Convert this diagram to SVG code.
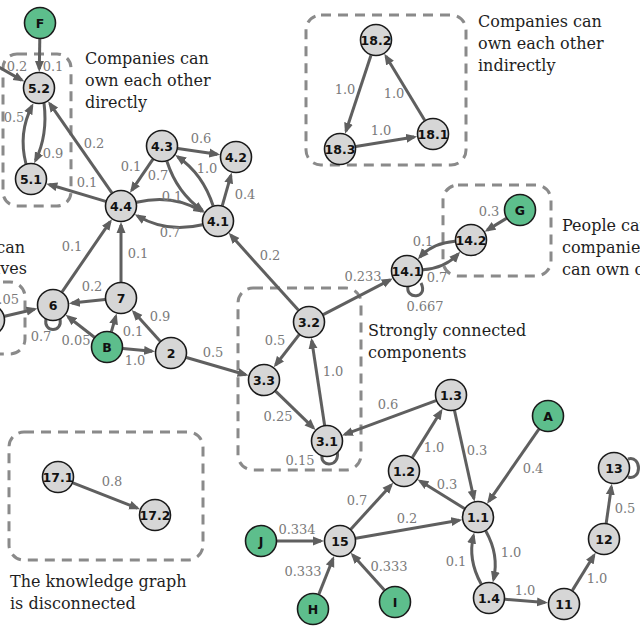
<svg xmlns="http://www.w3.org/2000/svg" width="640" height="640" viewBox="0 0 640 640">
<defs>
<marker id="arr" markerUnits="userSpaceOnUse" markerWidth="12" markerHeight="10" refX="8" refY="5" orient="auto" viewBox="0 0 12 10"><path d="M0,0.5 L11,5 L0,9.5 z" fill="#5f5f5f"/></marker>
</defs>
<style>
.e{fill:none;stroke:#5f5f5f;stroke-width:3;marker-end:url(#arr)}
.lp{fill:none;stroke:#5f5f5f;stroke-width:3}
.box{fill:none;stroke:#8a8a8a;stroke-width:3;stroke-dasharray:10 7}
.n{fill:#d6d6d6;stroke:#1a1a1a;stroke-width:1.6}
.g{fill:#5dbe8c;stroke:#1a1a1a;stroke-width:1.6}
.nt{font-family:"DejaVu Sans",sans-serif;font-weight:bold;font-size:12.5px;fill:#111;text-anchor:middle}
.el{font-family:"DejaVu Serif","Liberation Serif",serif;font-size:13px;fill:#7a7a7a;text-anchor:middle}
.an{font-family:"DejaVu Serif","Liberation Serif",serif;font-size:16px;fill:#1e1e1e}
</style>
<g id="boxes">
<rect class="box" x="3" y="54" width="68" height="152" rx="14"/>
<rect class="box" x="306" y="15" width="160" height="150" rx="15"/>
<rect class="box" x="443" y="185" width="108" height="91" rx="15"/>
<rect class="box" x="238" y="288" width="123" height="182" rx="15"/>
<rect class="box" x="9" y="432" width="194" height="128" rx="15"/>
<rect class="box" x="-80" y="282" width="105" height="72" rx="15"/>
</g>
<g id="annotations">
<text class="an" x="85" y="64">Companies can</text>
<text class="an" x="85" y="86">own each other</text>
<text class="an" x="85" y="108">directly</text>
<text class="an" x="478" y="27">Companies can</text>
<text class="an" x="478" y="49">own each other</text>
<text class="an" x="478" y="71">indirectly</text>
<text class="an" x="562" y="231">People can</text>
<text class="an" x="562" y="253">companies</text>
<text class="an" x="562" y="275">can own c</text>
<text class="an" x="25" y="253" text-anchor="end">can</text>
<text class="an" x="27" y="274" text-anchor="end">lves</text>
<text class="an" x="368" y="336">Strongly connected</text>
<text class="an" x="368" y="358">components</text>
<text class="an" x="10" y="587">The knowledge graph</text>
<text class="an" x="10" y="609">is disconnected</text>
</g>
<g id="connectors">
<path class="e" d="M39.8,39 L39.3,69"/>
<path class="e" d="M-5,65 L21.7,80.1"/>
<path class="e" d="M26,164 Q18,133 32,106"/>
<path class="e" d="M44,103 Q48,135 35.5,160.5"/>
<path class="e" d="M111.9,192.9 L49.8,103.6"/>
<path class="e" d="M105.7,201.4 L49.2,184.5"/>
<path class="e" d="M153,159.2 L131.7,190.3"/>
<path class="e" d="M166.9,161.2 Q177.2,193.1 202.3,210.3"/>
<path class="e" d="M213.1,205.8 Q202.8,173.9 177.7,156.7"/>
<path class="e" d="M136.6,202.3 Q172.6,193.7 201.7,211.2"/>
<path class="e" d="M202.4,224.7 Q166.4,233.3 137.3,215.8"/>
<path class="e" d="M177.8,148.4 L217.2,154.2"/>
<path class="e" d="M222.3,205.6 L230.9,175.3"/>
<path class="e" d="M62.1,291.8 L110.2,221.7"/>
<path class="e" d="M121,282 L121,225"/>
<path class="e" d="M105.1,299.6 L71.9,303.1"/>
<path class="e" d="M94.4,337.2 L68,316.7"/>
<path class="e" d="M111.4,331.6 L115.8,316.3"/>
<path class="e" d="M122.9,348.5 L152.1,351.2"/>
<path class="e" d="M160.2,341.2 L133.8,312.1"/>
<path class="e" d="M186.4,357.5 L245.7,374.7"/>
<path class="lp" d="M46,319 C43,333 63,333 60,319"/>
<path class="e" d="M4.6,316.3 L34.5,309.3"/>
<path class="e" d="M298.3,310.1 L230.7,235.1"/>
<path class="e" d="M323.2,314.6 L390.1,279.8"/>
<path class="e" d="M299.2,334.6 L275.6,365"/>
<path class="e" d="M324.6,425.2 L311.8,340.8"/>
<path class="e" d="M275.5,391.1 L313.4,427.8"/>
<path class="lp" d="M322,455 C320,468 341,467 337,451"/>
<path class="e" d="M436,400.6 L344.8,434.4"/>
<path class="lp" d="M408,286 C405,300 429,299 421,283"/>
<path class="e" d="M455,241.2 Q432.9,242.9 419.9,257"/>
<path class="e" d="M423,269.8 Q445.1,268.1 458.1,254"/>
<path class="e" d="M506.4,218.4 L487.2,230.1"/>
<path class="e" d="M371,55.2 L346,131"/>
<path class="e" d="M424.7,120.3 L385.9,56.2"/>
<path class="e" d="M355.8,146.5 L414.2,137"/>
<path class="e" d="M72.9,482.8 L137.3,508.1"/>
<path class="e" d="M412.4,457.4 L441,411.2"/>
<path class="e" d="M454.5,410.6 L473.9,498.5"/>
<path class="e" d="M464.4,508.5 L420.1,481"/>
<path class="e" d="M538.9,429.2 L488.8,501.4"/>
<path class="e" d="M350.8,529.2 L391.2,485"/>
<path class="e" d="M355.8,538.3 L459.3,520.3"/>
<path class="e" d="M277,541 L321,541"/>
<path class="e" d="M318.9,594.1 L333,558.7"/>
<path class="e" d="M384.3,590.1 L352.7,555.1"/>
<path class="e" d="M485.8,531 Q499.4,555.3 493.5,579.5"/>
<path class="e" d="M481.2,584 Q467.6,559.7 473.5,535.5"/>
<path class="e" d="M505,599.3 L545,602.5"/>
<path class="e" d="M572.4,590.4 L594,555.2"/>
<path class="e" d="M606.2,523.2 L611.4,486.8"/>
<path class="lp" d="M628,459 C642,455 642,481 628,477"/>
</g>
<g id="edge-labels">
<text class="el" x="53" y="71">0.1</text>
<text class="el" x="17" y="71">0.2</text>
<text class="el" x="14" y="122">0.5</text>
<text class="el" x="53" y="158">0.9</text>
<text class="el" x="94" y="148">0.2</text>
<text class="el" x="87" y="187">0.1</text>
<text class="el" x="131" y="171">0.1</text>
<text class="el" x="158" y="180">0.7</text>
<text class="el" x="207" y="173">1.0</text>
<text class="el" x="201" y="143">0.6</text>
<text class="el" x="245" y="199">0.4</text>
<text class="el" x="172" y="201">0.1</text>
<text class="el" x="170" y="237">0.7</text>
<text class="el" x="72" y="251">0.1</text>
<text class="el" x="138" y="258">0.1</text>
<text class="el" x="92" y="291">0.2</text>
<text class="el" x="19" y="304" style="text-anchor:end">0.05</text>
<text class="el" x="41" y="341">0.7</text>
<text class="el" x="76" y="345">0.05</text>
<text class="el" x="133" y="336">0.1</text>
<text class="el" x="160" y="321">0.9</text>
<text class="el" x="135" y="365">1.0</text>
<text class="el" x="213" y="357">0.5</text>
<text class="el" x="270" y="260">0.2</text>
<text class="el" x="363" y="281">0.233</text>
<text class="el" x="275" y="345">0.5</text>
<text class="el" x="333" y="376">1.0</text>
<text class="el" x="278" y="421">0.25</text>
<text class="el" x="300" y="465">0.15</text>
<text class="el" x="388" y="409">0.6</text>
<text class="el" x="425" y="311">0.667</text>
<text class="el" x="423" y="246">0.1</text>
<text class="el" x="437" y="282">0.7</text>
<text class="el" x="489" y="216">0.3</text>
<text class="el" x="345" y="94">1.0</text>
<text class="el" x="394" y="98">1.0</text>
<text class="el" x="381" y="135">1.0</text>
<text class="el" x="112" y="486">0.8</text>
<text class="el" x="434" y="452">1.0</text>
<text class="el" x="447" y="489">0.3</text>
<text class="el" x="477" y="455">0.3</text>
<text class="el" x="533" y="473">0.4</text>
<text class="el" x="357" y="505">0.7</text>
<text class="el" x="407" y="523">0.2</text>
<text class="el" x="297" y="534">0.334</text>
<text class="el" x="303" y="576">0.333</text>
<text class="el" x="389" y="571">0.333</text>
<text class="el" x="511" y="557">1.0</text>
<text class="el" x="456" y="566">0.1</text>
<text class="el" x="525" y="595">1.0</text>
<text class="el" x="597" y="583">1.0</text>
<text class="el" x="625" y="513">0.5</text>
</g>
<g id="nF"><circle class="g" cx="40" cy="23" r="15.5"/><text class="nt" x="40" y="27.5">F</text></g>
<g id="n5_2"><circle class="n" cx="39" cy="88" r="15.5"/><text class="nt" x="39" y="92.5">5.2</text></g>
<g id="n5_1"><circle class="n" cx="31" cy="179" r="15.5"/><text class="nt" x="31" y="183.5">5.1</text></g>
<g id="n4_4"><circle class="n" cx="121" cy="206" r="15.5"/><text class="nt" x="121" y="210.5">4.4</text></g>
<g id="n4_3"><circle class="n" cx="162" cy="146" r="15.5"/><text class="nt" x="162" y="150.5">4.3</text></g>
<g id="n4_2"><circle class="n" cx="236" cy="157" r="15.5"/><text class="nt" x="236" y="161.5">4.2</text></g>
<g id="n4_1"><circle class="n" cx="218" cy="221" r="15.5"/><text class="nt" x="218" y="225.5">4.1</text></g>
<g id="n6"><circle class="n" cx="53" cy="305" r="15.5"/><text class="nt" x="53" y="309.5">6</text></g>
<g id="n7"><circle class="n" cx="121" cy="298" r="15.5"/><text class="nt" x="121" y="302.5">7</text></g>
<g id="nB"><circle class="g" cx="107" cy="347" r="15.5"/><text class="nt" x="107" y="351.5">B</text></g>
<g id="n2"><circle class="n" cx="171" cy="353" r="15.5"/><text class="nt" x="171" y="357.5">2</text></g>
<g id="nLeft"><circle class="n" cx="-11" cy="320" r="15.5"/></g>
<g id="n3_2"><circle class="n" cx="309" cy="322" r="15.5"/><text class="nt" x="309" y="326.5">3.2</text></g>
<g id="n3_3"><circle class="n" cx="264" cy="380" r="15.5"/><text class="nt" x="264" y="384.5">3.3</text></g>
<g id="n3_1"><circle class="n" cx="327" cy="441" r="15.5"/><text class="nt" x="327" y="445.5">3.1</text></g>
<g id="n14_1"><circle class="n" cx="407" cy="271" r="15.5"/><text class="nt" x="407" y="275.5">14.1</text></g>
<g id="n14_2"><circle class="n" cx="471" cy="240" r="15.5"/><text class="nt" x="471" y="244.5">14.2</text></g>
<g id="nG"><circle class="g" cx="520" cy="210" r="15.5"/><text class="nt" x="520" y="214.5">G</text></g>
<g id="n18_2"><circle class="n" cx="376" cy="40" r="15.5"/><text class="nt" x="376" y="44.5">18.2</text></g>
<g id="n18_3"><circle class="n" cx="340" cy="149" r="15.5"/><text class="nt" x="340" y="153.5">18.3</text></g>
<g id="n18_1"><circle class="n" cx="433" cy="134" r="15.5"/><text class="nt" x="433" y="138.5">18.1</text></g>
<g id="n17_1"><circle class="n" cx="58" cy="477" r="15.5"/><text class="nt" x="58" y="481.5">17.1</text></g>
<g id="n17_2"><circle class="n" cx="155" cy="515" r="15.5"/><text class="nt" x="155" y="519.5">17.2</text></g>
<g id="n1_3"><circle class="n" cx="451" cy="395" r="15.5"/><text class="nt" x="451" y="399.5">1.3</text></g>
<g id="n1_2"><circle class="n" cx="404" cy="471" r="15.5"/><text class="nt" x="404" y="475.5">1.2</text></g>
<g id="n1_1"><circle class="n" cx="478" cy="517" r="15.5"/><text class="nt" x="478" y="521.5">1.1</text></g>
<g id="n1_4"><circle class="n" cx="489" cy="598" r="15.5"/><text class="nt" x="489" y="602.5">1.4</text></g>
<g id="n11"><circle class="n" cx="564" cy="604" r="15.5"/><text class="nt" x="564" y="608.5">11</text></g>
<g id="n12"><circle class="n" cx="604" cy="539" r="15.5"/><text class="nt" x="604" y="543.5">12</text></g>
<g id="n13"><circle class="n" cx="614" cy="468" r="15.5"/><text class="nt" x="614" y="472.5">13</text></g>
<g id="nA"><circle class="g" cx="548" cy="416" r="15.5"/><text class="nt" x="548" y="420.5">A</text></g>
<g id="n15"><circle class="n" cx="340" cy="541" r="15.5"/><text class="nt" x="340" y="545.5">15</text></g>
<g id="nJ"><circle class="g" cx="261" cy="541" r="15.5"/><text class="nt" x="261" y="545.5">J</text></g>
<g id="nH"><circle class="g" cx="313" cy="609" r="15.5"/><text class="nt" x="313" y="613.5">H</text></g>
<g id="nI"><circle class="g" cx="395" cy="602" r="15.5"/><text class="nt" x="395" y="606.5">I</text></g>
</svg>
